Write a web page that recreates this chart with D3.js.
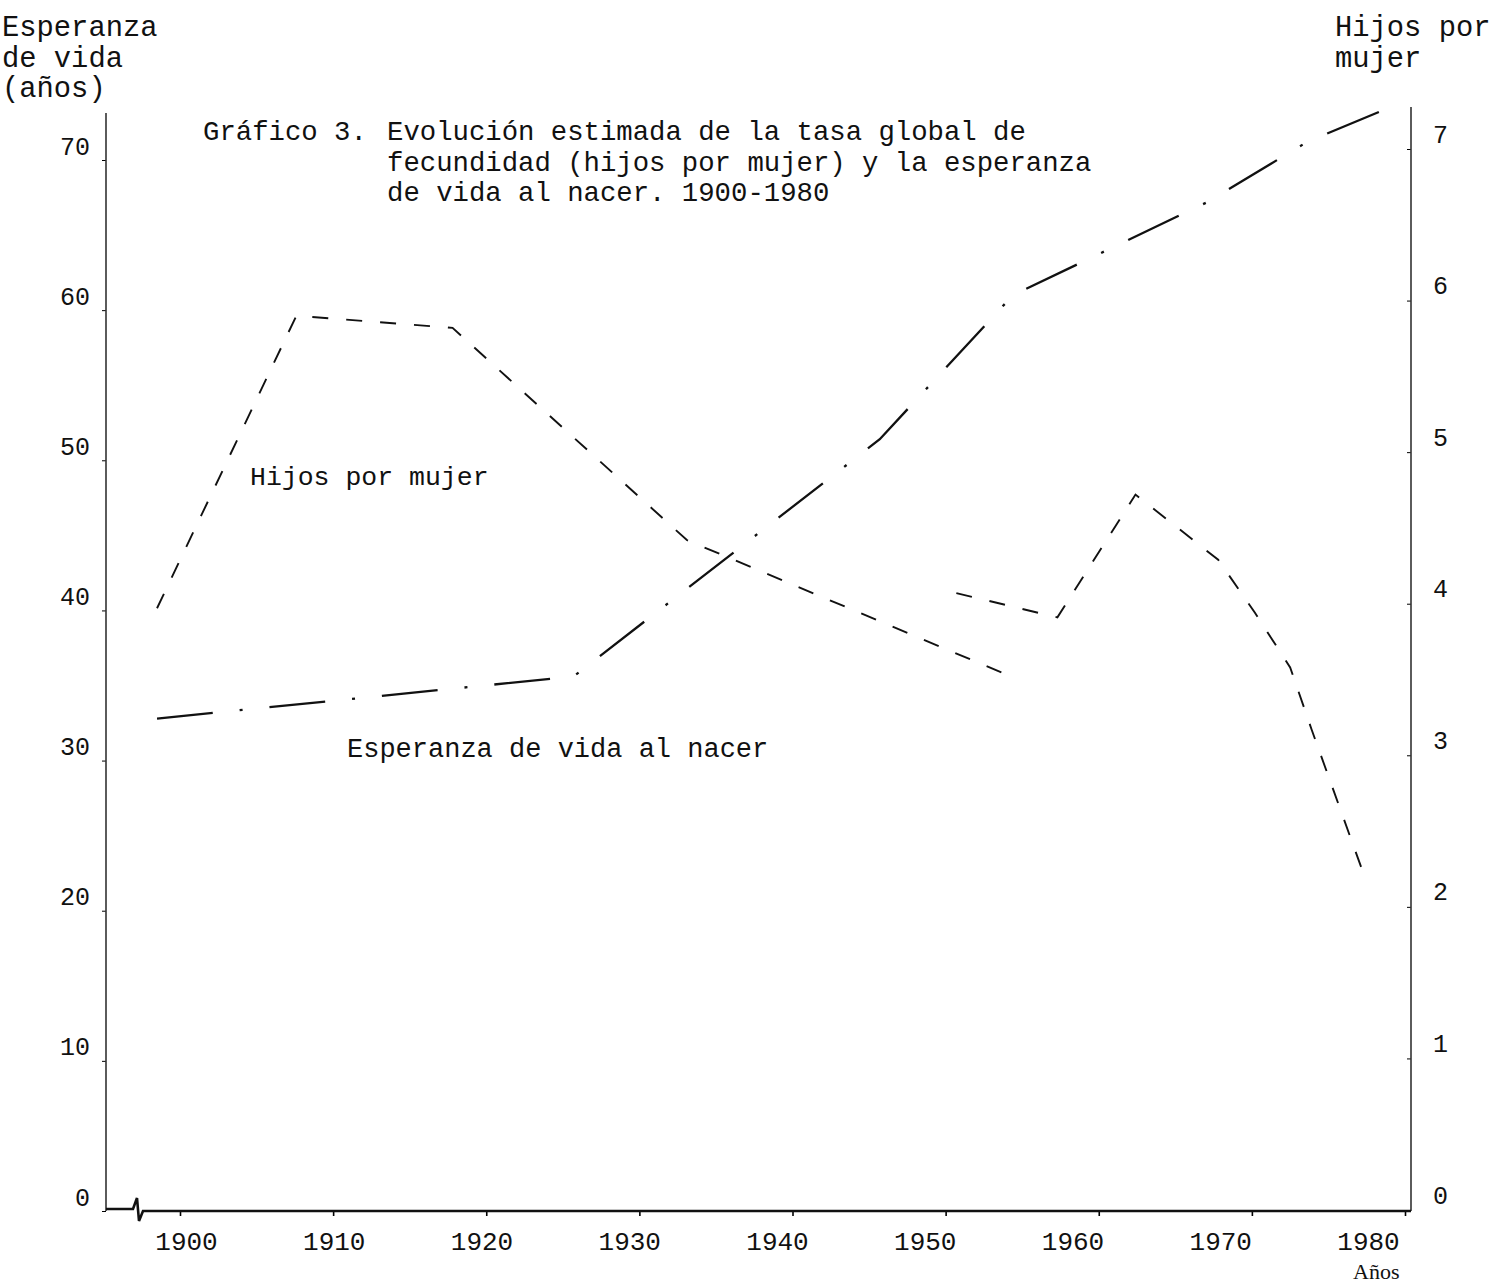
<!DOCTYPE html>
<html>
<head>
<meta charset="utf-8">
<script src="https://cdn.jsdelivr.net/npm/d3@7"></script>
<style>
  body { margin: 0; background: #fff; }
  svg { display: block; }
  text { fill: #111; }
</style>
</head>
<body>
<div id="chart"></div>
<script>
// Esperanza de vida al nacer (años) -- left axis
const espYears  = [1898.5, 1925.7, 1945.7, 1954.4, 1967.1, 1973.6, 1978.3];
const espValues = [32.8, 35.6, 51.4, 61.0, 67.2, 71.2, 73.2];

// Hijos por mujer -- right axis, two estimates that overlap around 1950
const hijosAYears  = [1898.5, 1907.6, 1917.8, 1933.1, 1953.8];
const hijosAValues = [3.97, 5.90, 5.82, 4.42, 3.54];
const hijosBYears  = [1950.7, 1957.3, 1962.4, 1967.8, 1970.2, 1972.5, 1973.9, 1977.5];
const hijosBValues = [4.07, 3.91, 4.72, 4.29, 3.94, 3.58, 3.17, 2.16];

// ticks
const yearTicks  = [1900, 1910, 1920, 1930, 1940, 1950, 1960, 1970, 1980];
const leftTicks  = [0, 10, 20, 30, 40, 50, 60, 70];
const rightTicks = [0, 1, 2, 3, 4, 5, 6, 7];

const titleLines = [
  "Evolución estimada de la tasa global de",
  "fecundidad (hijos por mujer) y la esperanza",
  "de vida al nacer. 1900-1980"
];

/*    constants    */
const width = 1497;
const height = 1284;
const mono = "'Liberation Mono', 'DejaVu Sans Mono', monospace";

const svg = d3.select("#chart")
  .append("svg")
    .attr("width", width)
    .attr("height", height)
    .attr("viewBox", `0 0 ${width} ${height}`);

const xScale = d3.scaleLinear().domain([1900, 1980]).range([180, 1405]);
// typed labels sit a little off their tick marks
const xLabelScale = d3.scaleLinear().domain([1900, 1980]).range([186, 1368]);
const yLeft = d3.scaleLinear().domain([0, 70]).range([1211, 160]);
const yRight = d3.scaleLinear().domain([0, 7]).range([1210, 149]);

const leftX = 106;
const rightX = 1411;
const baseY = 1211;

/*    axes    */
// left
const leftAxis = svg.append("g")
  .attr("transform", `translate(${leftX},0)`)
  .call(d3.axisLeft(yLeft).tickValues(leftTicks).tickSize(4).tickPadding(12).tickFormat(d3.format("d")));
leftAxis.select(".domain").remove();
leftAxis.selectAll("text")
  .attr("dy", -6)
  .attr("font-family", mono)
  .attr("font-size", 25);

svg.append("line")
  .attr("x1", leftX).attr("x2", leftX)
  .attr("y1", 113).attr("y2", baseY)
  .attr("stroke", "#333")
  .attr("stroke-width", 1.6);

// right
const rightAxis = svg.append("g")
  .attr("transform", `translate(${rightX},0)`)
  .call(d3.axisRight(yRight).tickValues(rightTicks).tickSize(-4).tickPadding(22).tickFormat(d3.format("d")));
rightAxis.select(".domain").remove();
rightAxis.selectAll("text")
  .attr("dy", -7)
  .attr("font-family", mono)
  .attr("font-size", 25);

svg.append("line")
  .attr("x1", rightX).attr("x2", rightX)
  .attr("y1", 107).attr("y2", baseY)
  .attr("stroke", "#333")
  .attr("stroke-width", 1.6);

// bottom
const xAxis = svg.append("g")
  .attr("transform", `translate(0,${baseY})`)
  .call(d3.axisBottom(xScale).tickValues(yearTicks).tickSize(5).tickFormat(d => d));
xAxis.select(".domain").remove();
xAxis.selectAll("line").attr("stroke-width", 1.6);
xAxis.selectAll("text")
  .attr("x", d => xLabelScale(d) - xScale(d))
  .attr("y", 39)
  .attr("dy", 0)
  .attr("font-family", mono)
  .attr("font-size", 26);

// baseline with the axis break near the origin
svg.append("path")
  .attr("d", `M${leftX},${baseY - 2} L133,${baseY - 2} L137,${baseY - 13} L139,${baseY + 10} L143,${baseY} L${rightX},${baseY}`)
  .attr("fill", "none")
  .attr("stroke", "#111")
  .attr("stroke-width", 2.6);

/*    series    */
const esp = espYears.map((d, i) => ({year: d, value: espValues[i]}));
const hijosA = hijosAYears.map((d, i) => ({year: d, value: hijosAValues[i]}));
const hijosB = hijosBYears.map((d, i) => ({year: d, value: hijosBValues[i]}));

const espLine = d3.line().x(d => xScale(d.year)).y(d => yLeft(d.value));
const hijosLine = d3.line().x(d => xScale(d.year)).y(d => yRight(d.value));

svg.append("path")
  .datum(esp)
  .attr("d", espLine)
  .attr("fill", "none")
  .attr("stroke", "#111")
  .attr("stroke-width", 2.3)
  .attr("stroke-dasharray", "56,27,3,27");

[hijosA, hijosB].forEach(s => {
  svg.append("path")
    .datum(s)
    .attr("d", hijosLine)
    .attr("fill", "none")
    .attr("stroke", "#111")
    .attr("stroke-width", 1.9)
    .attr("stroke-dasharray", "16,18");
});

/*    texts    */
const typed = (x, y, s, size = 27.3) => svg.append("text")
  .attr("x", x).attr("y", y)
  .attr("font-family", mono)
  .attr("font-size", size)
  .attr("xml:space", "preserve")
  .text(s);

typed(2, 36, "Esperanza", 28.8);
typed(2, 67, "de vida", 28.8);
typed(2, 97, "(años)", 28.8);
typed(1335, 36, "Hijos por", 28.8);
typed(1335, 67, "mujer", 28.8);

typed(203, 140, "Gráfico 3.");
titleLines.forEach((t, i) => typed(387, 140 + i * 30.5, t));

typed(250, 485, "Hijos por mujer", 26.5);
typed(347, 757, "Esperanza de vida al nacer", 27);

svg.append("text")
  .attr("x", 1353).attr("y", 1279)
  .attr("font-family", "'Liberation Serif', serif")
  .attr("font-size", 22)
  .text("Años");
</script>
</body>
</html>
